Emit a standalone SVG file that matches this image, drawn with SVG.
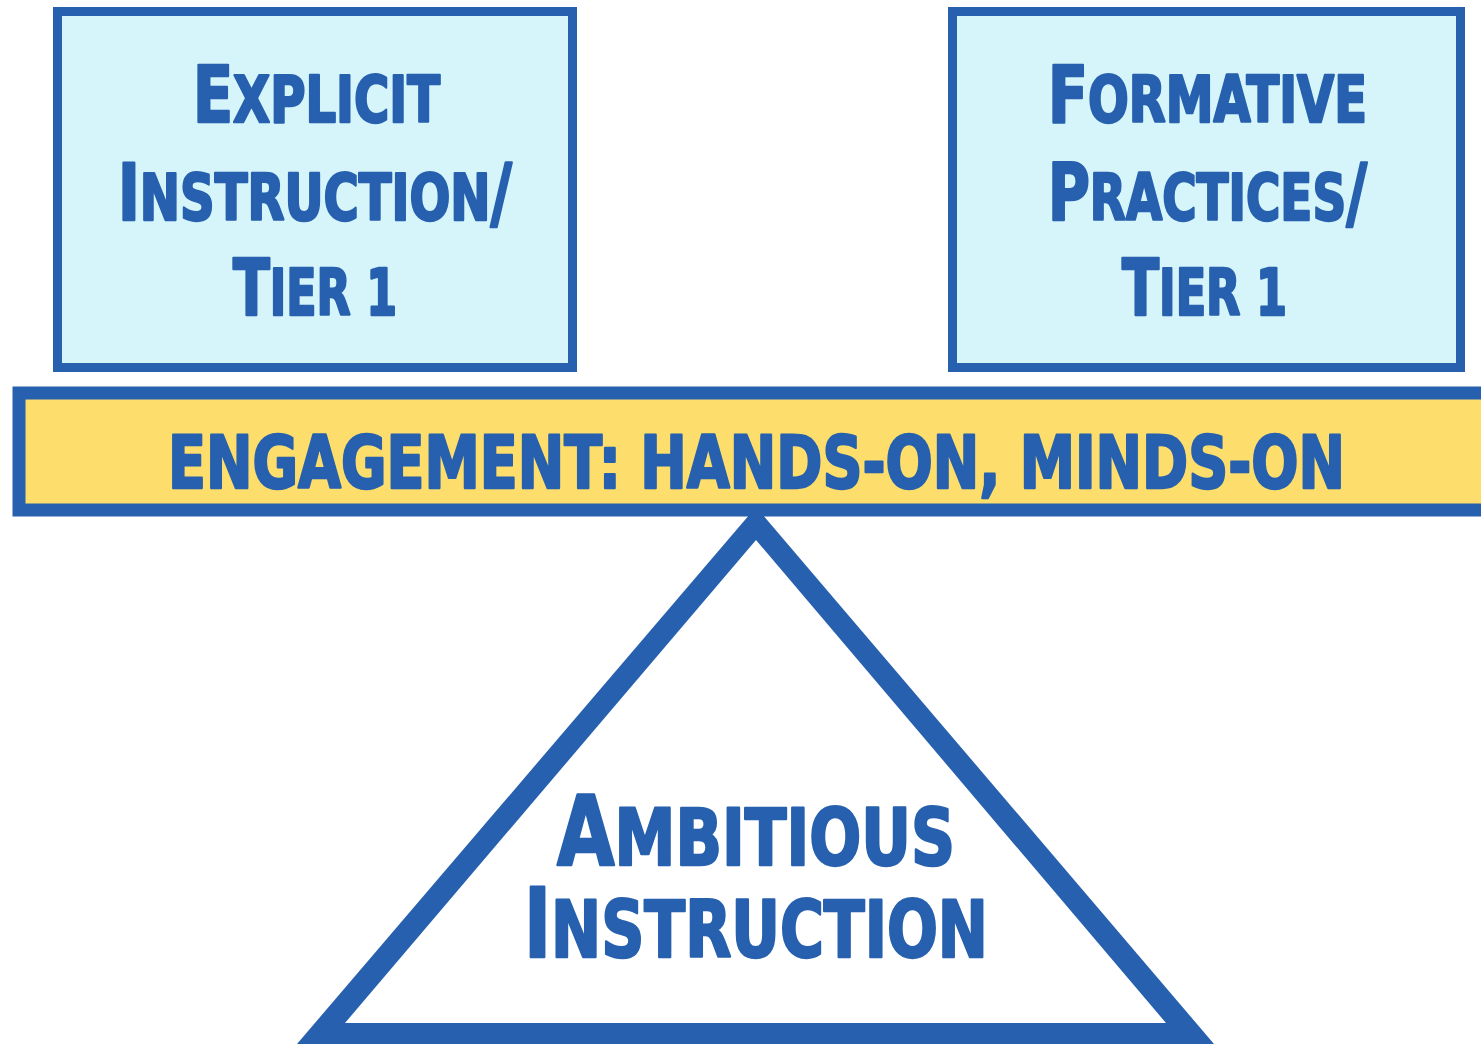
<svg xmlns="http://www.w3.org/2000/svg" width="1481" height="1044" viewBox="0 0 1481 1044">
  <style>
    .box { fill: #d6f5fb; stroke: #2660ae; stroke-width: 9; }
    .bar { fill: #fddd6b; stroke: #2660ae; stroke-width: 13; }
    .lbl { font-family: "DejaVu Sans Condensed", "DejaVu Sans", sans-serif; font-weight: bold; fill: #2660ae; stroke: #2660ae; stroke-width: 2.4; stroke-linejoin: round; }
  </style>
  <rect width="1481" height="1044" fill="#ffffff"/>

  <!-- fulcrum -->
  <g id="node-ambitious">
    <polygon points="756,507 1214,1044 297,1044" fill="#2660ae"/>
    <polygon points="756,540 1166,1023 345,1023" fill="#ffffff"/>
    <text class="lbl" x="557" y="865" textLength="398" lengthAdjust="spacingAndGlyphs"><tspan font-size="96">A</tspan><tspan font-size="79">MBITIOUS</tspan></text>
    <text class="lbl" x="524" y="957" textLength="464" lengthAdjust="spacingAndGlyphs"><tspan font-size="96">I</tspan><tspan font-size="79">NSTRUCTION</tspan></text>
  </g>

  <!-- beam -->
  <g id="node-engagement">
    <rect class="bar" x="19" y="393" width="1480" height="117"/>
    <text class="lbl" x="168" y="488" font-size="73" textLength="1177" lengthAdjust="spacingAndGlyphs">ENGAGEMENT: HANDS-ON, MINDS-ON</text>
  </g>

  <!-- left pan -->
  <g id="node-explicit">
    <rect class="box" x="57.5" y="11.5" width="515" height="356"/>
    <text class="lbl" x="193" y="122" textLength="247" lengthAdjust="spacingAndGlyphs"><tspan font-size="78">E</tspan><tspan font-size="64">XPLICIT</tspan></text>
    <text class="lbl" x="118" y="220" textLength="394" lengthAdjust="spacingAndGlyphs"><tspan font-size="78">I</tspan><tspan font-size="64">NSTRUCTION</tspan><tspan font-size="78">/</tspan></text>
    <text class="lbl" x="233" y="315" textLength="164" lengthAdjust="spacingAndGlyphs"><tspan font-size="78">T</tspan><tspan font-size="64">IER 1</tspan></text>
  </g>

  <!-- right pan -->
  <g id="node-formative">
    <rect class="box" x="952.5" y="11.5" width="508" height="356"/>
    <text class="lbl" x="1048" y="122" textLength="319" lengthAdjust="spacingAndGlyphs"><tspan font-size="78">F</tspan><tspan font-size="64">ORMATIVE</tspan></text>
    <text class="lbl" x="1048" y="220" textLength="319" lengthAdjust="spacingAndGlyphs"><tspan font-size="78">P</tspan><tspan font-size="64">RACTICES</tspan><tspan font-size="78">/</tspan></text>
    <text class="lbl" x="1122" y="315" textLength="165" lengthAdjust="spacingAndGlyphs"><tspan font-size="78">T</tspan><tspan font-size="64">IER 1</tspan></text>
  </g>

  <g id="connectors"></g>
</svg>
